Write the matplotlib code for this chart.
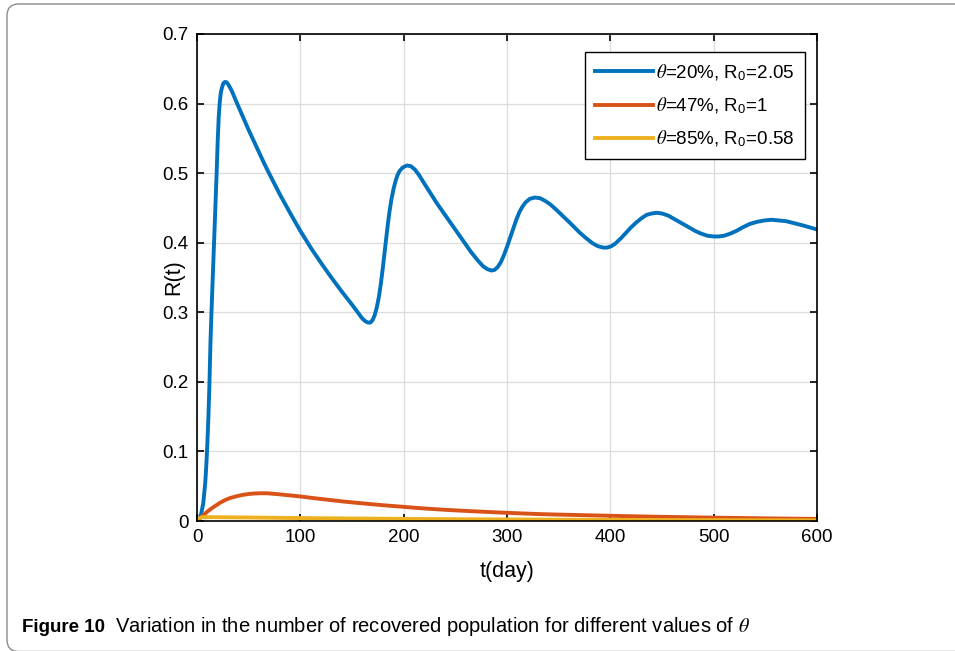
import matplotlib
matplotlib.use("Agg")
import matplotlib.pyplot as plt
from matplotlib.patches import FancyBboxPatch

plt.rcParams['font.family'] = ['Liberation Sans', 'DejaVu Sans']
plt.rcParams['mathtext.fontset'] = 'custom'
plt.rcParams['mathtext.rm'] = 'Liberation Sans'
plt.rcParams['mathtext.it'] = 'STIXGeneral:italic'

# R(t) curves, values read per day
t_20 = [0, 2, 4, 6, 8, 9, 10, 11, 12, 13, 14, 15, 16, 17, 18, 19, 20, 21, 22, 23, 24,
        25, 26, 27, 28, 29, 30, 32, 34, 36, 38, 40, 45, 50, 55, 60, 65, 70, 80, 90, 100,
        110, 120, 130, 140, 150, 156, 160, 163, 166, 168, 170, 172, 174, 176, 178, 180,
        182, 184, 186, 188, 190, 192, 194, 196, 199, 203, 207, 211, 215, 220, 226, 232,
        240, 250, 258, 265, 272, 277, 281, 285, 288, 291, 294, 297, 300, 303, 306, 309,
        312, 315, 318, 322, 327, 332, 337, 342, 348, 355, 362, 370, 377, 383, 388, 393,
        397, 401, 405, 410, 415, 420, 425, 430, 435, 440, 445, 450, 456, 462, 468, 475,
        482, 488, 494, 500, 505, 510, 516, 522, 528, 535, 542, 549, 556, 563, 570, 578,
        586, 593, 600]
R_20 = [0, 0.003, 0.01, 0.025, 0.055, 0.08, 0.11, 0.148, 0.195, 0.255, 0.30, 0.34, 0.38,
        0.42, 0.46, 0.50, 0.545, 0.58, 0.602, 0.615, 0.622, 0.627, 0.630, 0.631, 0.631,
        0.630, 0.628, 0.623, 0.617, 0.610, 0.603, 0.596, 0.579, 0.562, 0.546, 0.530,
        0.514, 0.499, 0.470, 0.443, 0.417, 0.393, 0.371, 0.350, 0.330, 0.311, 0.299,
        0.291, 0.287, 0.285, 0.2855, 0.289, 0.296, 0.307, 0.322, 0.342, 0.366, 0.392,
        0.418, 0.442, 0.461, 0.476, 0.488, 0.497, 0.503, 0.508, 0.511, 0.510, 0.505,
        0.497, 0.485, 0.471, 0.457, 0.440, 0.419, 0.402, 0.387, 0.374, 0.366, 0.362,
        0.360, 0.361, 0.365, 0.372, 0.382, 0.394, 0.407, 0.420, 0.433, 0.444, 0.452,
        0.458, 0.463, 0.465, 0.464, 0.460, 0.455, 0.447, 0.437, 0.427, 0.415, 0.406,
        0.399, 0.395, 0.393, 0.393, 0.395, 0.399, 0.406, 0.414, 0.422, 0.429, 0.435,
        0.440, 0.442, 0.443, 0.442, 0.439, 0.434, 0.429, 0.423, 0.417, 0.413, 0.410,
        0.409, 0.409, 0.410, 0.413, 0.417, 0.422, 0.427, 0.430, 0.432, 0.433, 0.432,
        0.431, 0.428, 0.425, 0.422, 0.419]

t_47 = [0, 3, 6, 10, 14, 18, 22, 27, 32, 38, 44, 50, 56, 62, 68, 75, 82, 90, 100, 115,
        130, 143, 157, 170, 184, 198, 211, 225, 240, 256, 274, 293, 311, 330, 347, 365,
        382, 400, 425, 450, 475, 500, 525, 550, 575, 600]
R_47 = [0, 0.004, 0.008, 0.0135, 0.018, 0.022, 0.026, 0.030, 0.033, 0.0355, 0.0375,
        0.0388, 0.0396, 0.0399, 0.0398, 0.039, 0.038, 0.0368, 0.0353, 0.0325, 0.0300,
        0.0278, 0.0258, 0.0240, 0.0222, 0.0206, 0.0190, 0.0175, 0.0161, 0.0148, 0.0135,
        0.0122, 0.0111, 0.0100, 0.0093, 0.0087, 0.0081, 0.0075, 0.0067, 0.0060, 0.0054,
        0.0048, 0.0043, 0.0038, 0.0034, 0.0030]

t_85 = [0, 2, 5, 15, 50, 100, 200, 300, 400, 500, 600]
R_85 = [0, 0.004, 0.0055, 0.0055, 0.005, 0.0042, 0.003, 0.0022, 0.0016, 0.0012, 0.0009]

labels = [r'$\theta$=20%, R$_0$=2.05', r'$\theta$=47%, R$_0$=1', r'$\theta$=85%, R$_0$=0.58']
colors = ['#0072BD', '#D95319', '#EDB120']

xticks = [0, 100, 200, 300, 400, 500, 600]
yticks = [0, 0.1, 0.2, 0.3, 0.4, 0.5, 0.6, 0.7]

fig = plt.figure(figsize=(9.55, 6.51), dpi=100)

# rounded frame, right side runs off the page
frame = FancyBboxPatch((7 / 955, -0.5 / 651), 1.1, (651.5 - 4) / 651,
                       boxstyle='round,pad=0,rounding_size=0.012',
                       transform=fig.transFigure, fc='none', ec='#8c8c8c', lw=1.0,
                       mutation_aspect=955 / 651)
fig.patches.append(frame)

ax = fig.add_axes([197 / 955, 130 / 651, 620 / 955, 487 / 651])
for t, R, lab, c in zip([t_20, t_47, t_85], [R_20, R_47, R_85], labels, colors):
    ax.plot(t, R, color=c, lw=2.8, label=lab, solid_joinstyle='round')

ax.set_xlim(0, 600)
ax.set_ylim(0, 0.7)
ax.set_xticks(xticks)
ax.set_yticks(yticks)
ax.set_xticklabels([str(v) for v in xticks])
ax.set_yticklabels(['0'] + [f'{v:g}' for v in yticks[1:]])
ax.grid(True, color='#dcdcdc', lw=0.9)
ax.set_axisbelow(True)
ax.tick_params(direction='in', length=5, width=1.2, labelsize=13.5, top=True, right=True,
               pad=6, colors='black')
for s in ax.spines.values():
    s.set_linewidth(1.2)
ax.set_xlabel('t(day)', fontsize=15.5, va='center')
ax.set_ylabel('R(t)', fontsize=15.5, va='center')
ax.xaxis.set_label_coords(0.5, (521 - 572) / 487)
ax.yaxis.set_label_coords((174 - 197) / 620, 0.5)

leg = ax.legend(loc='upper right', bbox_to_anchor=(0.9806, 0.963), borderaxespad=0,
                fontsize=13.5, handlelength=3.1, handletextpad=0.15, labelspacing=0.68,
                borderpad=0.55, fancybox=False, framealpha=1, edgecolor='black')
leg.get_frame().set_linewidth(1.0)

fig.text(22 / 955, 1 - 627 / 651, 'Figure 10', fontsize=13.5, fontweight='bold',
         va='center', ha='left')
fig.text(115 / 955, 1 - 627 / 651,
         r'Variation in the number of recovered population for different values of $\theta$',
         fontsize=14.5, va='center', ha='left')

fig.savefig('out.png', dpi=100)
